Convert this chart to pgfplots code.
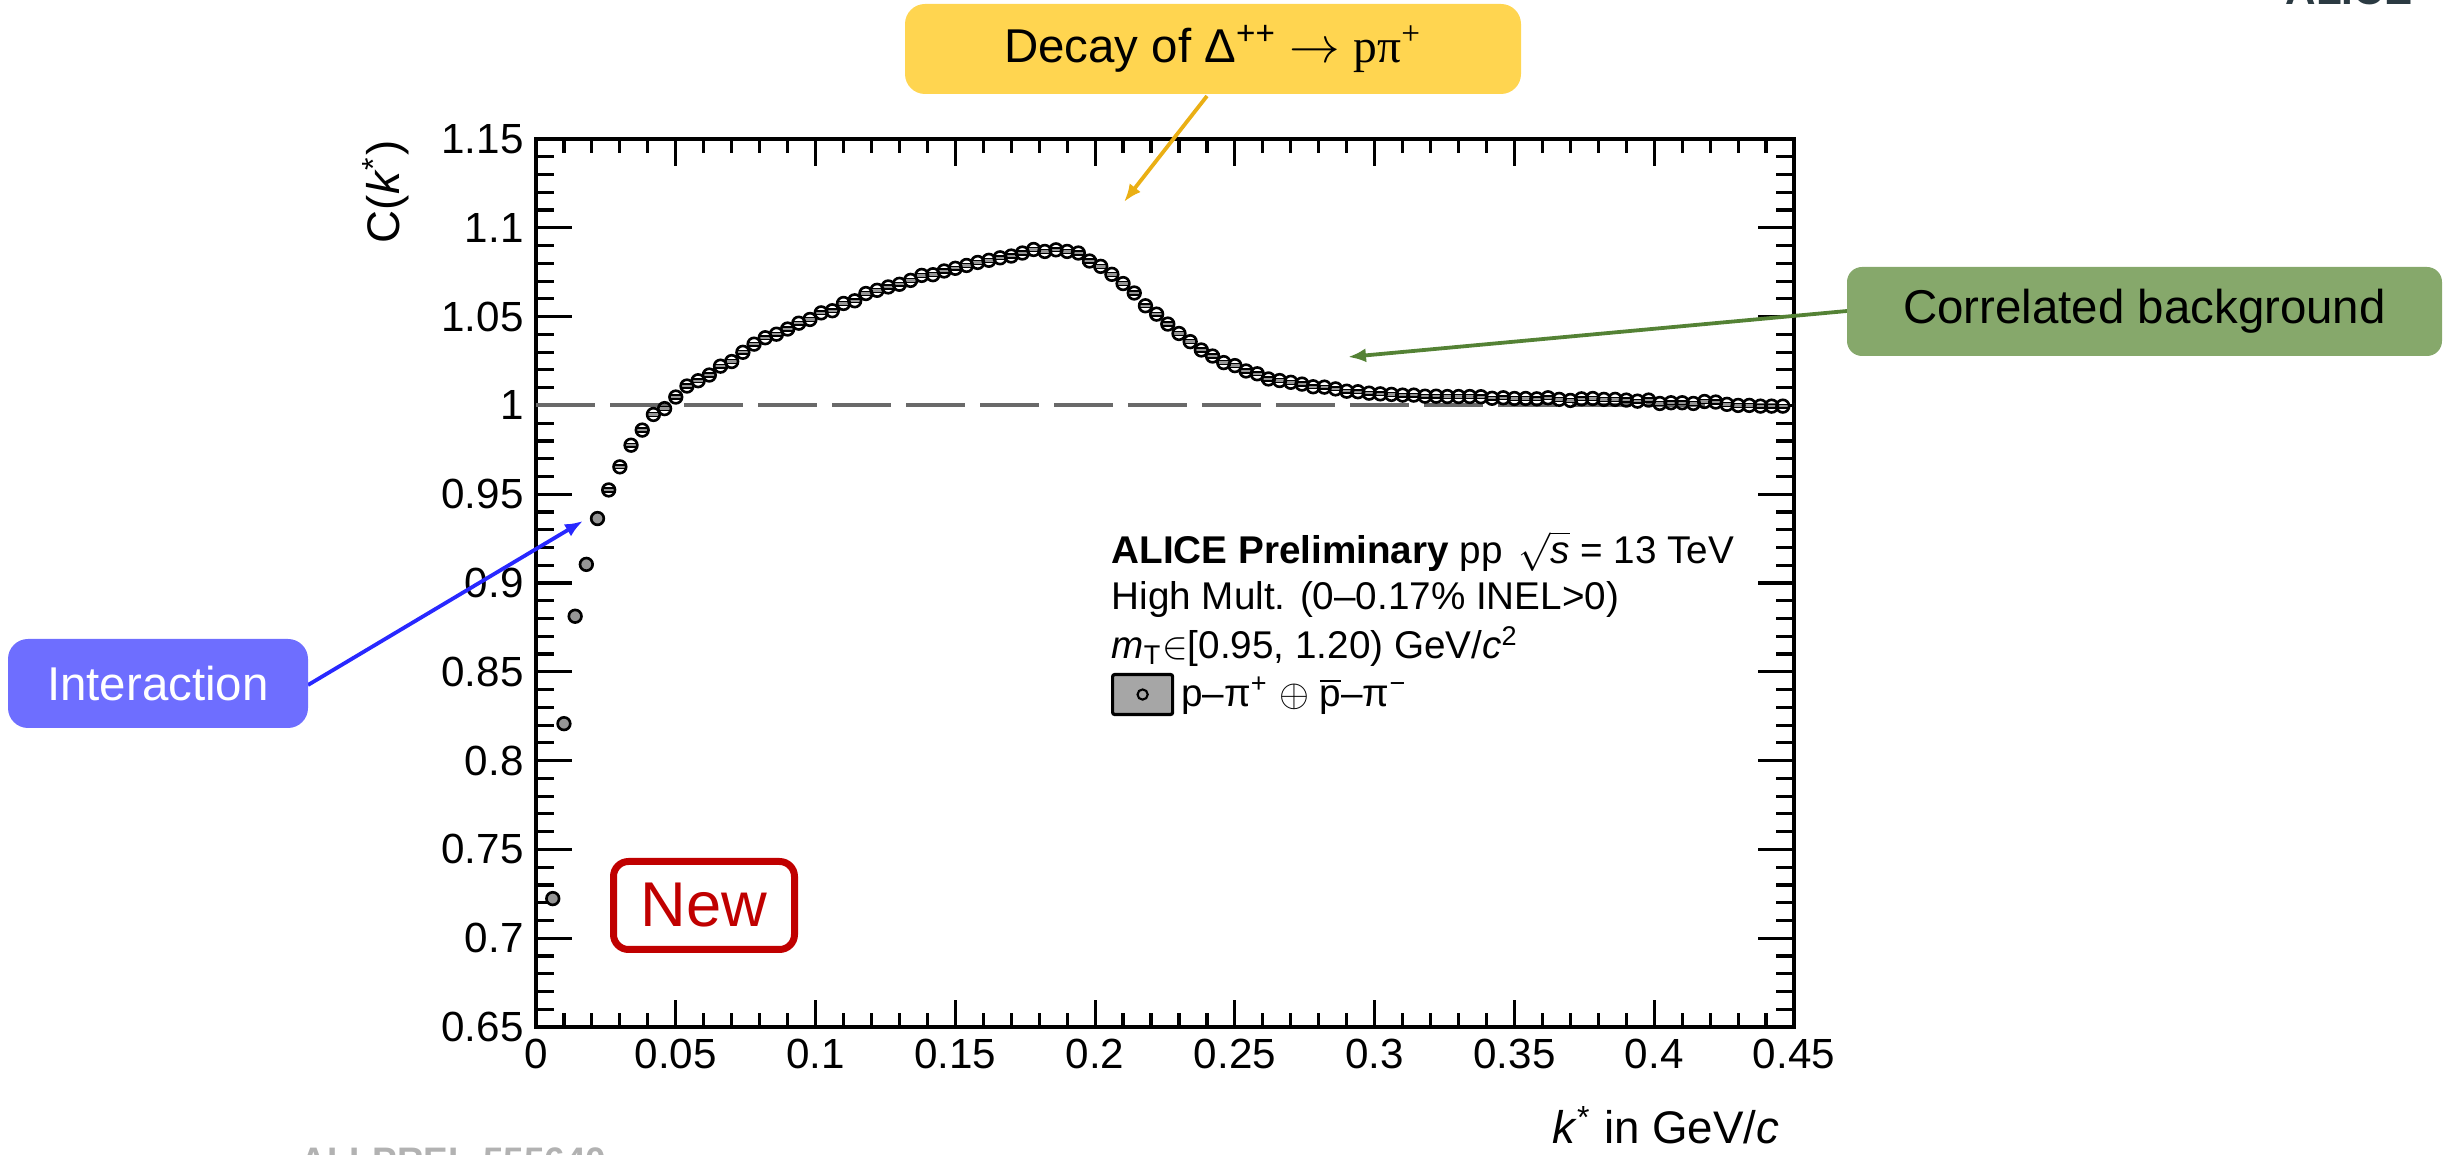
\documentclass[border=0pt]{standalone}
\usepackage{pgfplots}
\pgfplotsset{compat=1.18}
\usepackage{pgfplotstable}
\usepackage{fontspec}
\setmainfont{Liberation Sans}
\newfontfamily\seriffont{Liberation Serif}
\usetikzlibrary{arrows.meta}

\definecolor{boxyellow}{RGB}{255,213,80}
\definecolor{arrowyellow}{RGB}{234,175,20}
\definecolor{boxgreen}{RGB}{134,168,107}
\definecolor{arrowgreen}{RGB}{84,130,53}
\definecolor{boxblue}{RGB}{110,110,255}
\definecolor{arrowblue}{RGB}{40,40,255}
\definecolor{newred}{RGB}{192,0,0}
\definecolor{dashgray}{RGB}{105,105,105}
\definecolor{systgray}{RGB}{150,150,150}
\definecolor{logogray}{RGB}{43,58,66}

\pgfplotstableread{
k C
0.006 0.7223
0.010 0.8208
0.014 0.8813
0.018 0.9105
0.022 0.9363
0.026 0.9524
0.030 0.9654
0.034 0.9776
0.038 0.9861
0.042 0.9949
0.046 0.9982
0.050 1.0047
0.054 1.0109
0.058 1.0139
0.062 1.0171
0.066 1.0221
0.070 1.0247
0.074 1.0299
0.078 1.0345
0.082 1.0381
0.086 1.0401
0.090 1.0430
0.094 1.0463
0.098 1.0484
0.102 1.0521
0.106 1.0533
0.110 1.0574
0.114 1.0589
0.118 1.0630
0.122 1.0648
0.126 1.0667
0.130 1.0682
0.134 1.0704
0.138 1.0732
0.142 1.0736
0.146 1.0757
0.150 1.0772
0.154 1.0788
0.158 1.0805
0.162 1.0817
0.166 1.0831
0.170 1.0841
0.174 1.0858
0.178 1.0878
0.182 1.0867
0.186 1.0876
0.190 1.0867
0.194 1.0858
0.198 1.0813
0.202 1.0783
0.206 1.0738
0.210 1.0686
0.214 1.0633
0.218 1.0561
0.222 1.0514
0.226 1.0458
0.230 1.0405
0.234 1.0359
0.238 1.0312
0.242 1.0278
0.246 1.0241
0.250 1.0224
0.254 1.0194
0.258 1.0178
0.262 1.0149
0.266 1.0140
0.270 1.0130
0.274 1.0120
0.278 1.0105
0.282 1.0103
0.286 1.0093
0.290 1.0080
0.294 1.0077
0.298 1.0069
0.302 1.0065
0.306 1.0062
0.310 1.0058
0.314 1.0058
0.318 1.0052
0.322 1.0052
0.326 1.0050
0.330 1.0050
0.334 1.0050
0.338 1.0049
0.342 1.0040
0.346 1.0043
0.350 1.0039
0.354 1.0039
0.358 1.0037
0.362 1.0043
0.366 1.0034
0.370 1.0028
0.374 1.0037
0.378 1.0039
0.382 1.0034
0.386 1.0034
0.390 1.0030
0.394 1.0024
0.398 1.0030
0.402 1.0011
0.406 1.0015
0.410 1.0015
0.414 1.0011
0.418 1.0022
0.422 1.0019
0.426 1.0006
0.430 1.0000
0.434 1.0000
0.438 0.9996
0.442 0.9996
0.446 0.9996
}\datatable

\begin{document}
\begin{tikzpicture}
\useasboundingbox (0,0) rectangle (24.61,11.54);
\clip (0,0) rectangle (24.61,11.54);
\begin{axis}[
  at={(5.36cm,1.27cm)}, anchor=south west,
  scale only axis, width=12.58cm, height=8.88cm,
  xmin=0, xmax=0.45, ymin=0.65, ymax=1.15,
  xtick={0,0.05,0.1,0.15,0.2,0.25,0.3,0.35,0.4,0.45},
  xticklabels={0,0.05,0.1,0.15,0.2,0.25,0.3,0.35,0.4,0.45},
  ytick={0.65,0.7,0.75,0.8,0.85,0.9,0.95,1,1.05,1.1,1.15},
  yticklabels={0.65,0.7,0.75,0.8,0.85,0.9,0.95,1,1.05,1.1,1.15},
  minor x tick num=4, minor y tick num=4,
  tick align=inside, tick pos=both,
  major tick length=0.36cm, minor tick length=0.18cm,
  xtick style={/pgfplots/major tick length=0.27cm,/pgfplots/minor tick length=0.135cm},
  every tick/.style={black, line width=0.9pt},
  axis line style={line width=1.4pt},
  tick label style={font=\fontsize{12}{14}\selectfont},
  legend style={at={(axis cs:0.2057,0.8372)}, anchor=west, draw=none, fill=none, inner sep=0pt, outer sep=0pt, font=\fontsize{11}{13}\selectfont},
  legend cell align=left,
]
\addplot[dashgray, line width=1.15pt, dash pattern=on 0.59cm off 0.15cm, forget plot] coordinates {(0,1) (0.45,1)};
\addplot[only marks, mark=square*, mark size=1.8pt, mark options={draw=none, fill=systgray, yscale=0.3}, restrict x to domain=0.024:0.45, forget plot] table[x=k,y=C] {\datatable};
\addplot[only marks, mark=o, mark size=1.8pt, mark options={black, line width=0.75pt}, restrict x to domain=0.024:0.45,
  legend image code/.code={\draw[fill=systgray!85, line width=0.9pt, rounded corners=0.6pt] (0cm,-0.2cm) rectangle (0.6cm,0.2cm); \draw[black, line width=0.6pt] (0.3cm,0cm) circle (1.45pt);}] table[x=k,y=C] {\datatable};
\addlegendentry{p–π\textsuperscript{+} $\oplus$ $\overline{\mbox{p}}$–π\textsuperscript{−}}
\addplot[only marks, mark=*, mark size=1.8pt, mark options={draw=black, fill=systgray, line width=0.75pt}, restrict x to domain=0:0.024, forget plot] table[x=k,y=C] {\datatable};
\end{axis}

% axis titles
\node[rotate=90, anchor=east, inner sep=0pt, font=\fontsize{13}{15}\selectfont] at (3.86,10.14) {C(\textit{k}\textsuperscript{*})};
\node[anchor=base east, inner sep=0pt, font=\fontsize{13}{15}\selectfont] at (17.80,0.10) {\textit{k}\textsuperscript{*} in GeV/\textit{c}};

% ALICE text
\node[anchor=base west, inner sep=0pt, font=\fontsize{11}{13}\selectfont] at (11.11,5.90) {\textbf{ALICE Preliminary} pp\hspace{0.4em}$\sqrt{\textit{s}}$ = 13 TeV};
\node[anchor=base west, inner sep=0pt, font=\fontsize{11}{13}\selectfont] at (11.11,5.44) {High Mult. (0–0.17\% INEL>0)};
\node[anchor=base west, inner sep=0pt, font=\fontsize{11}{13}\selectfont] at (11.11,4.95) {\textit{m}\textsubscript{T}$\in$[0.95, 1.20) GeV/\textit{c}\textsuperscript{2}};

% arrows
\draw[arrowyellow, line width=0.038cm, -{Latex[length=0.18cm,width=0.14cm]}] (12.07,10.58) -- (11.24,9.52);
\draw[arrowgreen, line width=0.038cm, -{Latex[length=0.18cm,width=0.14cm]}] (18.47,8.43) -- (13.48,7.97);
\draw[arrowblue, line width=0.038cm, -{Latex[length=0.18cm,width=0.14cm]}] (3.08,4.69) -- (5.83,6.33);

% boxes
\node[fill=boxyellow, rounded corners=0.2cm, minimum width=6.16cm, minimum height=0.90cm, inner sep=0pt, font=\fontsize{13.5}{16}\selectfont] at (12.13,11.05) {Decay of Δ\textsuperscript{++} $\rightarrow$ {\seriffont pπ\textsuperscript{+}}};
\node[fill=boxgreen, rounded corners=0.15cm, minimum width=5.95cm, minimum height=0.89cm, inner sep=0pt, font=\fontsize{13.5}{16}\selectfont] at (21.445,8.425) {Correlated background};
\node[fill=boxblue, text=white, rounded corners=0.2cm, minimum width=3.00cm, minimum height=0.89cm, inner sep=0pt, font=\fontsize{13.5}{16}\selectfont] at (1.58,4.705) {Interaction};
\draw[newred, line width=0.07cm, fill=white, rounded corners=0.15cm] (6.135,2.045) rectangle (7.945,2.925);
\node[text=newred, inner sep=0pt, font=\fontsize{18}{21}\selectfont] at (7.04,2.485) {New};

% cut-off logo and label
\node[anchor=base west, inner sep=0pt, text=logogray, font=\bfseries\fontsize{12}{14}\selectfont] at (22.85,11.49) {ALICE};
\node[anchor=north west, inner sep=0pt, text=gray!60, font=\bfseries\fontsize{10.5}{12}\selectfont] at (3.00,0.07) {ALI-PREL-555640};
\end{tikzpicture}
\end{document}
